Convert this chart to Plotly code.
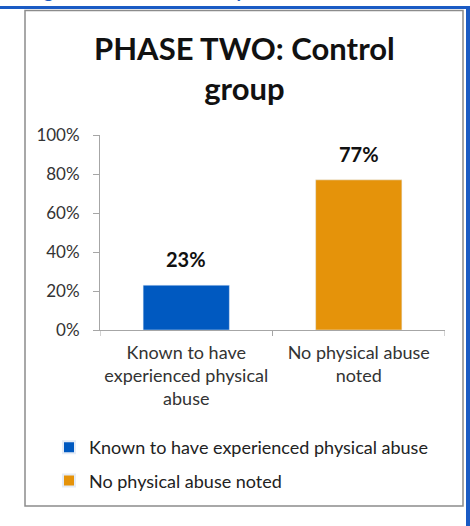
import plotly.graph_objects as go

categories = ["Known to have<br>experienced physical<br>abuse", "No physical abuse<br>noted"]
series_names = ["Known to have experienced physical abuse", "No physical abuse noted"]
values = [0.23, 0.77]
labels = ["23%", "77%"]
colors = ["#0059C0", "#E5930A"]
tick_vals = [0, 0.2, 0.4, 0.6, 0.8, 1.0]
tick_text = ["0%", "20%", "40%", "60%", "80%", "100%"]

FONT = "Lato"
W, H = 470, 526
L, R, T, B = 100, 25, 135, 196
pw, ph = W - L - R, H - T - B


def px_x(x):
    return (x - L) / pw


def px_y(y):
    return (H - B - y) / ph


fig = go.Figure()
for i, (cat, name, v, c) in enumerate(zip(categories, series_names, values, colors)):
    fig.add_trace(go.Bar(
        x=[cat], y=[v], name=name, marker_color=c, legendgroup=f"g{i}",
        width=0.5, offset=-0.25,
    ))

# value labels above bars
for cat, v, lab in zip(categories, values, labels):
    fig.add_annotation(x=cat, y=v, text=f"<b>{lab}</b>", showarrow=False,
                       yanchor="bottom", yshift=12,
                       font=dict(family=FONT, size=20, color="#111111"))

# outer chart frame and page border
fig.add_shape(type="rect", xref="paper", yref="paper",
              x0=px_x(25), x1=px_x(463), y0=px_y(506), y1=px_y(10.5),
              line=dict(color="#8c8c8c", width=1.5), fillcolor="rgba(0,0,0,0)", layer="below")
fig.add_shape(type="line", xref="paper", yref="paper",
              x0=px_x(0), x1=px_x(470), y0=px_y(7.5), y1=px_y(7.5),
              line=dict(color="#1A5BC4", width=3))
fig.add_shape(type="line", xref="paper", yref="paper",
              x0=px_x(468), x1=px_x(468), y0=px_y(526), y1=px_y(6),
              line=dict(color="#1A5BC4", width=4))

# clipped caption above the frame
fig.add_annotation(text="<b>Figure 8 - Phase Two: Physical abuse</b>", xref="paper", yref="paper",
                   x=px_x(26), y=px_y(4), xanchor="left", yanchor="bottom", showarrow=False,
                   font=dict(family=FONT, size=19, color="#1A5BC4"))

# x tick marks at category boundaries
for xv in [-0.5, 0.5, 1.5]:
    fig.add_shape(type="line", xref="x", yref="paper", x0=xv, x1=xv,
                  y0=0, y1=-6 / ph, line=dict(color="#a6a6a6", width=1))

fig.update_layout(
    width=W, height=H,
    margin=dict(l=L, r=R, t=T, b=B),
    paper_bgcolor="white", plot_bgcolor="white",
    title=dict(text="<b>PHASE TWO: Control<br>group</b>", x=0.52, xanchor="center",
               y=1 - 60 / H, yanchor="top",
               font=dict(family=FONT, size=31, color="#111111")),
    font=dict(family=FONT, size=18, color="#333333"),
    bargap=0.5,
    showlegend=True,
    legend=dict(orientation="v", x=px_x(49), y=px_y(429), xanchor="left", yanchor="top",
                font=dict(family=FONT, size=18, color="#222222"),
                tracegroupgap=7, itemsizing="constant"),
    xaxis=dict(range=[-0.5, 1.5], showline=True, linecolor="#a6a6a6", linewidth=1,
               ticks="", ticklabelstandoff=6,
               tickfont=dict(family=FONT, size=18, color="#333333")),
    yaxis=dict(range=[0, 1], tickvals=tick_vals, ticktext=tick_text, showline=True,
               linecolor="#a6a6a6", linewidth=1, ticks="outside", ticklen=6,
               tickcolor="#a6a6a6", showgrid=False, zeroline=False, ticklabelstandoff=10,
               tickfont=dict(family=FONT, size=17, color="#333333")),
)

fig.write_html("out.html", config={"displayModeBar": False},
               post_script="document.body.style.margin='0';")
